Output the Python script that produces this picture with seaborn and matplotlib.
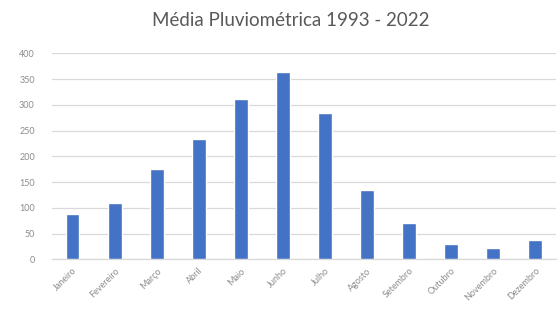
import matplotlib
matplotlib.use("Agg")
import matplotlib.pyplot as plt
import seaborn as sns
import pandas as pd

meses = ["Janeiro", "Fevereiro", "Março", "Abril", "Maio", "Junho",
         "Julho", "Agosto", "Setembro", "Outubro", "Novembro", "Dezembro"]
precipitacao = [88, 109, 175, 234, 312, 363, 285, 135, 71, 30, 22, 38]
y_ticks = [0, 50, 100, 150, 200, 250, 300, 350, 400]
titulo = "Média Pluviométrica 1993 - 2022"

df = pd.DataFrame({"mes": meses, "mm": precipitacao})

sns.set_style("white")
plt.rcParams["font.family"] = ["Lato", "DejaVu Sans"]

fig = plt.figure(figsize=(5.6, 3.21), dpi=100)
ax = fig.add_axes([0.092, 0.192, 0.901, 0.642])

sns.barplot(data=df, x="mes", y="mm", color="#4472C4", saturation=1,
            width=0.33, ax=ax, zorder=3)

ax.set_ylim(0, 400)
ax.set_yticks(y_ticks)
ax.set_yticklabels([str(v) for v in y_ticks], fontsize=6.5, color="#8c8c8c")
ax.set_xticks(range(len(meses)))
ax.set_xticklabels(meses, rotation=45, ha="right", rotation_mode="anchor",
                   fontsize=6.5, color="#8c8c8c")
ax.tick_params(axis="x", length=0, pad=5)
ax.tick_params(axis="y", length=0, pad=12)
ax.set_xlabel("")
ax.set_ylabel("")
ax.grid(axis="y", color="#d9d9d9", linewidth=0.9, zorder=0)
for side in ["top", "right", "left"]:
    ax.spines[side].set_visible(False)
ax.spines["bottom"].set_color("#d9d9d9")
ax.spines["bottom"].set_linewidth(0.9)

fig.text(0.52, 0.935, titulo, ha="center", va="center",
         fontsize=13.5, color="#595959")

fig.savefig("out.png", dpi=100)
